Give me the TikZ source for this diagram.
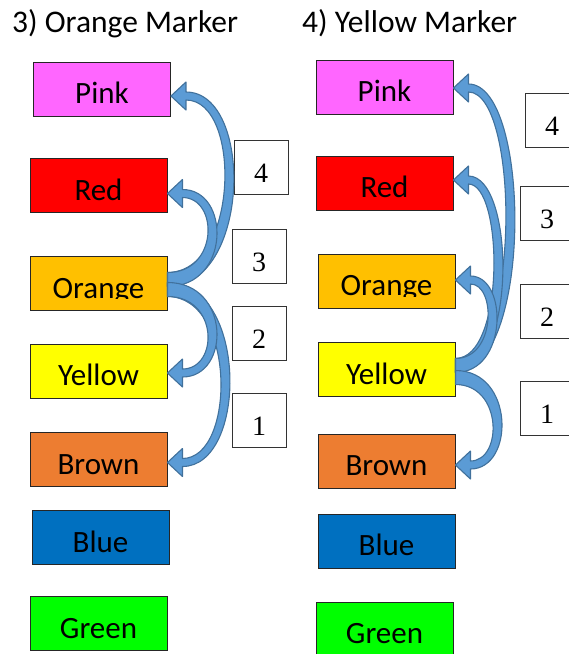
\documentclass[tikz,border=0pt]{standalone}
\usepackage{fontspec}
\setmainfont{Carlito}
\newfontfamily\numfont{Liberation Serif}
\usepackage{tikz}
\usetikzlibrary{positioning,calc}
\definecolor{pinkbox}{HTML}{FF66FF}
\definecolor{redbox}{HTML}{FF0000}
\definecolor{orangebox}{HTML}{FFC000}
\definecolor{yellowbox}{HTML}{FFFF00}
\definecolor{brownbox}{HTML}{ED7D31}
\definecolor{bluebox}{HTML}{0070C0}
\definecolor{greenbox}{HTML}{00FF00}
\definecolor{arrowfill}{HTML}{5B9BD5}
\definecolor{arrowline}{HTML}{41719C}
\tikzset{swatch/.style={draw=black!85, line width=0.9pt, minimum width=137pt, minimum height=54pt, inner sep=0pt, font=\fontsize{31}{36}\selectfont, text height=29pt, text depth=0pt}}
\tikzset{cutoff/.style={path picture={
	\clip ([yshift=12pt]path picture bounding box.south west) rectangle (path picture bounding box.north east);
	\node[anchor=base, inner sep=0pt, font=\fontsize{31}{36}\selectfont] at ([yshift=12.5pt]path picture bounding box.south) {#1};}}}
\tikzset{numbox/.style={draw=black!80, fill=white, line width=0.9pt, minimum size=54pt, inner sep=0pt, font=\numfont\fontsize{28}{32}\selectfont, text height=30pt, text depth=0pt}}
\tikzset{heading/.style={anchor=base west, inner sep=0pt, font=\fontsize{31.5}{36}\selectfont}}
\tikzset{bendband/.style={fill=arrowfill, draw=arrowline, line width=1.1pt, line join=round}}
% #1 from, #2 its offset, #3 to, #4 its offset, #5 bulge, #6 = 1 going down / -1 going up
\newcommand{\markerarrow}[6]{%
	\draw[bendband]
		($(#1.east)+(0,{#2+#6*7})$)
			.. controls ($(#1.east)+({1.333*#5-6},{#2+#6*7})$) and ($(#3.east)+({1.333*#5-6},{#4-#6*4})$) ..
		($(#3.east)+(15,{#4-#6*4})$) -- ($(#3.east)+(15,{#4-#6*14})$) -- ($(#3.east)+(0,#4)$)
		-- ($(#3.east)+(15,{#4+#6*14})$) -- ($(#3.east)+(15,{#4+#6*4})$)
			.. controls ($(#3.east)+({1.333*#5+6},{#4+#6*4})$) and ($(#1.east)+({1.333*#5+6},{#2-#6*7})$) ..
		($(#1.east)+(0,{#2-#6*7})$) -- cycle;}

\begin{document}
\begin{tikzpicture}[x=1pt, y=-1pt]
	\useasboundingbox (0,0) rectangle (569,654);
	\clip (0,0) rectangle (569,654);
	%
	\node[heading] (titleL) at (12,32) {3) Orange Marker};
	\node[heading] (titleR) at (302,32) {4) Yellow Marker};
	% orange marker
	\node[swatch, fill=pinkbox] (pinkL) at (102,89) {Pink};
	\node[swatch, fill=redbox] (redL) at (98.5,185.5) {Red};
	\node[swatch, fill=orangebox, cutoff=Orange] (orangeL) at (98.5,283.5) {};
	\node[swatch, fill=yellowbox] (yellowL) at (98.5,371) {Yellow};
	\node[swatch, fill=brownbox] (brownL) at (98.5,459.5) {Brown};
	\node[swatch, fill=bluebox] (blueL) at (100.5,537.5) {Blue};
	\node[swatch, fill=greenbox] (greenL) at (98.5,623.5) {Green};
	\node[numbox] (n4L) at (261,167) {4};
	\node[numbox] (n3L) at (259,256) {3};
	\node[numbox] (n2L) at (259,333) {2};
	\node[numbox] (n1L) at (259,420) {1};
	% yellow marker
	\node[swatch, fill=pinkbox] (pinkR) at (384.5,87) {Pink};
	\node[swatch, fill=redbox] (redR) at (384.5,183) {Red};
	\node[swatch, fill=orangebox, cutoff=Orange] (orangeR) at (386.5,281) {};
	\node[swatch, fill=yellowbox] (yellowR) at (386.5,369.5) {Yellow};
	\node[swatch, fill=brownbox] (brownR) at (386.5,461) {Brown};
	\node[swatch, fill=bluebox] (blueR) at (386.5,541) {Blue};
	\node[swatch, fill=greenbox] (greenR) at (384.5,629) {Green};
	\node[numbox] (n4R) at (552,120) {4};
	\node[numbox] (n3R) at (547,213) {3};
	\node[numbox] (n2R) at (547,311) {2};
	\node[numbox] (n1R) at (547,408) {1};
	%
	\markerarrow{orangeL}{-4}{pinkL}{7}{58}{-1}
	\markerarrow{orangeL}{6}{brownL}{3}{56}{1}
	\markerarrow{orangeL}{-4}{redL}{8}{43}{-1}
	\markerarrow{orangeL}{6}{yellowL}{2}{43}{1}
	%
	\markerarrow{yellowR}{-4}{pinkR}{1}{54}{-1}
	\markerarrow{yellowR}{-4}{redR}{-3}{42}{-1}
	\markerarrow{yellowR}{-4}{orangeR}{-1}{35}{-1}
	\markerarrow{yellowR}{8}{brownR}{4}{40}{1}
\end{tikzpicture}
\end{document}
